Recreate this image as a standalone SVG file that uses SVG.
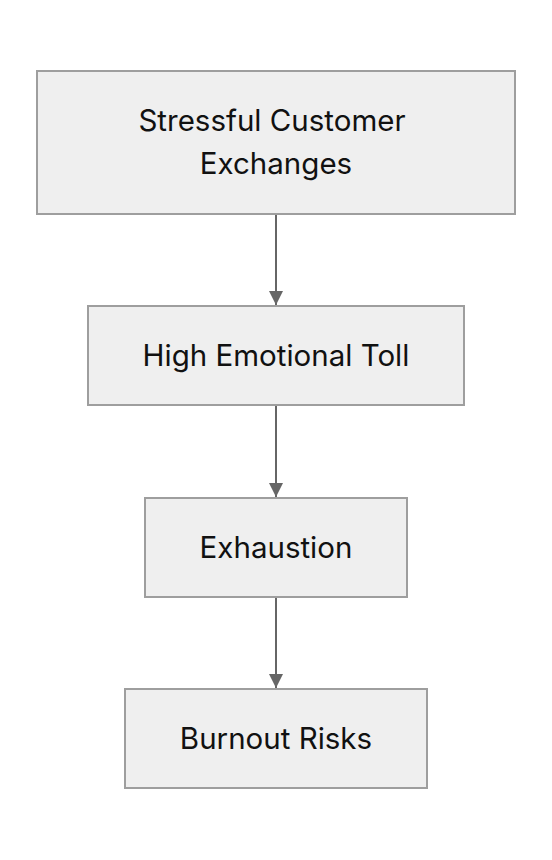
<svg xmlns="http://www.w3.org/2000/svg" width="552" height="860" viewBox="0 0 552 860">
<style>
.box{fill:#efefef;stroke:#9e9e9e;stroke-width:2}
.lbl{font-family:Inter,"Noto Sans",sans-serif;font-size:29.5px;fill:#111;text-anchor:middle}
.edge{stroke:#666;stroke-width:2;fill:none}
</style>
<defs>
<marker id="arr" viewBox="0 0 10 10" refX="10" refY="5" markerWidth="14" markerHeight="14" markerUnits="userSpaceOnUse" orient="auto">
<path d="M0,0 L10,5 L0,10 z" fill="#666"/>
</marker>
</defs>
<rect width="552" height="860" fill="#fff"/>
<g id="n1"><rect class="box" x="37" y="71" width="478" height="143"/>
<text class="lbl" x="272" y="131">Stressful Customer</text>
<text class="lbl" x="276" y="174">Exchanges</text></g>
<g id="n2"><rect class="box" x="88" y="306" width="376" height="99"/>
<text class="lbl" x="276" y="366">High Emotional Toll</text></g>
<g id="n3"><rect class="box" x="145" y="498" width="262" height="99"/>
<text class="lbl" x="276" y="558">Exhaustion</text></g>
<g id="n4"><rect class="box" x="125" y="689" width="302" height="99"/>
<text class="lbl" x="276" y="749">Burnout Risks</text></g>
<g id="edges">
<path class="edge" d="M276,215 V305" marker-end="url(#arr)"/>
<path class="edge" d="M276,406 V497" marker-end="url(#arr)"/>
<path class="edge" d="M276,598 V688" marker-end="url(#arr)"/>
</g>
</svg>
